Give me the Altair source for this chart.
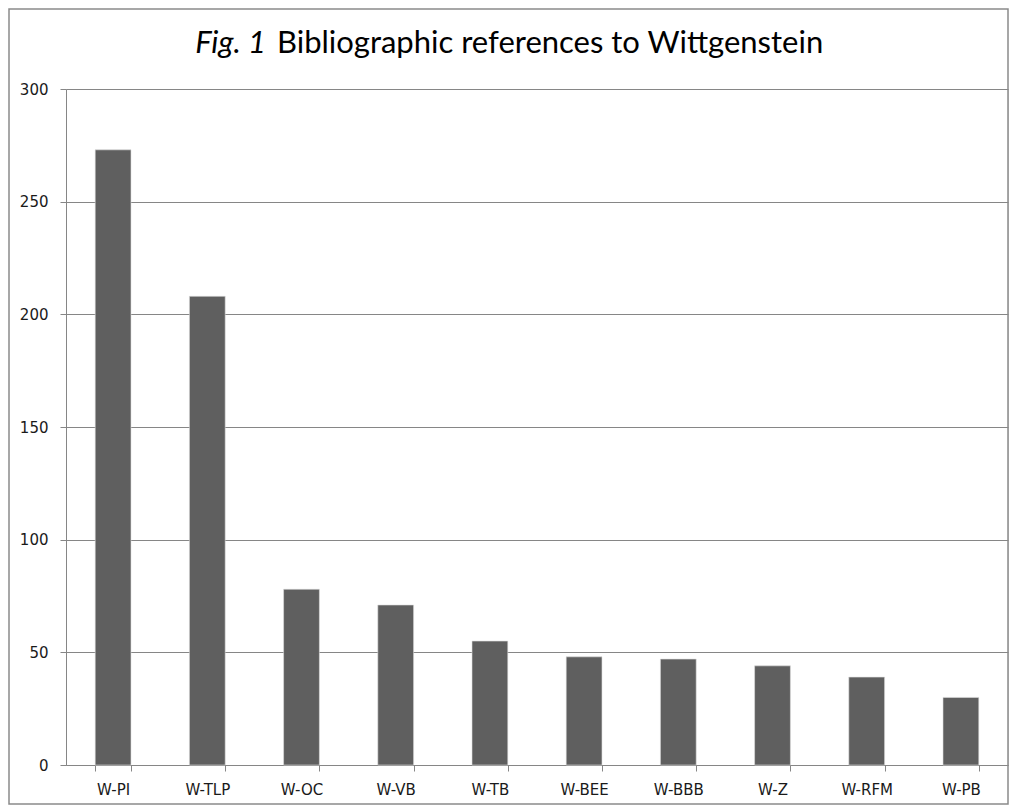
import altair as alt
import pandas as pd

categories = ["W-PI", "W-TLP", "W-OC", "W-VB", "W-TB", "W-BEE", "W-BBB", "W-Z", "W-RFM", "W-PB"]
values = [273, 208, 78, 71, 55, 48, 47, 44, 39, 30]
y_ticks = [0, 50, 100, 150, 200, 250, 300]

df = pd.DataFrame({"work": categories, "count": values})

W, H = 942, 676

x_enc = alt.X(
    "work:N",
    sort=categories,
    scale=alt.Scale(paddingInner=0.62, paddingOuter=0.31),
    axis=alt.Axis(
        title=None, labelAngle=0, labelFont="DejaVu Sans", labelFontSize=15,
        labelColor="#1a1a1a", labelPadding=11, tickBand="extent", tickSize=6,
        tickColor="#868686", domainColor="#868686", grid=False,
    ),
)
y_enc = alt.Y(
    "count:Q",
    scale=alt.Scale(domain=[0, 300], nice=False),
    axis=alt.Axis(
        title=None, values=y_ticks, labelFont="DejaVu Sans", labelFontSize=15,
        labelColor="#1a1a1a", labelPadding=12, tickSize=6, tickColor="#868686",
        domainColor="#868686", gridColor="#868686", gridWidth=1, gridOpacity=1,
    ),
)

bars = alt.Chart(df).mark_bar(color="#5f5f5f", stroke="#dddddd", strokeWidth=0.6).encode(x=x_enc, y=y_enc)

title_df = pd.DataFrame({"a": [1]})
fig_txt = alt.Chart(title_df).mark_text(
    text="Fig. 1", font="Lato", fontSize=31, fontStyle="italic", align="right",
    baseline="alphabetic", color="#000000",
).encode(x=alt.value(200), y=alt.value(-36))
main_txt = alt.Chart(title_df).mark_text(
    text="Bibliographic references to Wittgenstein", font="Lato", fontSize=31,
    align="left", baseline="alphabetic", color="#000000",
).encode(x=alt.value(211), y=alt.value(-36))

border = alt.Chart(title_df).mark_rect(
    fill=None, stroke="#8a8a8a", strokeWidth=1.5
).encode(x=alt.value(-57), x2=alt.value(W + 0), y=alt.value(-80), y2=alt.value(H + 39))

chart = alt.layer(border, bars, fig_txt, main_txt).properties(
    width=W, height=H,
    autosize=alt.AutoSizeParams(type="none"),
    padding={"left": 58, "top": 81, "right": 1, "bottom": 40},
).configure_view(stroke=None).configure(background="white")

chart.save("out.html", embed_options={"renderer": "svg", "actions": False})
